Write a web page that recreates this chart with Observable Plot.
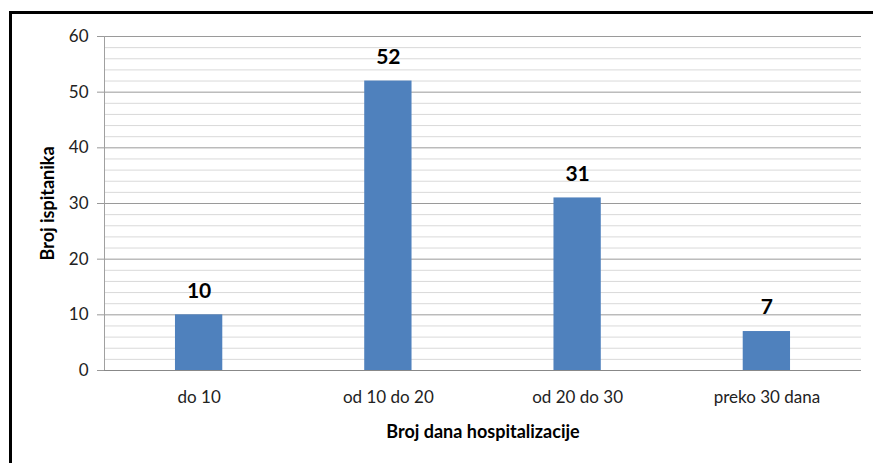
<!DOCTYPE html>
<html>
<head>
<meta charset="utf-8">
<script src="https://cdn.jsdelivr.net/npm/d3@7"></script>
<script src="https://cdn.jsdelivr.net/npm/@observablehq/plot@0.6"></script>
<style>
  html, body { margin: 0; padding: 0; background: #fff; }
  #wrap { position: relative; width: 873px; height: 463px; overflow: hidden; }
  #border { position: absolute; left: 9px; top: 11px; width: 900px; height: 500px;
            border-top: 3px solid #000; border-left: 3px solid #000; box-sizing: border-box; }
  #chart { position: absolute; left: 0; top: 0; }
</style>
</head>
<body>
<div id="wrap"><div id="border"></div><div id="chart"></div></div>
<script>
const categories = ["do 10", "od 10 do 20", "od 20 do 30", "preko 30 dana"];
const values = [10, 52, 31, 7];
const yTicks = [0, 10, 20, 30, 40, 50, 60];
const minorTicks = d3.range(0, 61, 2).filter(v => v % 10 !== 0);
const xTitle = "Broj dana hospitalizacije";
const yTitle = "Broj ispitanika";

const data = categories.map((c, i) => ({cat: c, val: values[i]}));
const font = "Lato, 'Open Sans', sans-serif";

const chart = Plot.plot({
  width: 873,
  height: 463,
  marginLeft: 104,
  marginRight: 12,
  marginTop: 36,
  marginBottom: 93,
  style: {fontFamily: font, background: "transparent", color: "#000", overflow: "visible"},
  x: {domain: categories, paddingInner: 0.75, paddingOuter: 0.375, round: false},
  y: {domain: [0, 60]},
  marks: [
    Plot.ruleY(minorTicks, {stroke: "#d9d9d9", strokeWidth: 1}),
    Plot.ruleY(yTicks.filter(v => v > 0), {stroke: "#9a9a9a", strokeWidth: 1}),
    Plot.barY(data, {x: "cat", y: "val", fill: "#4f81bd"}),
    Plot.frame({anchor: "left", stroke: "#a0a0a0"}),
    Plot.ruleY([0], {stroke: "#888888", strokeWidth: 1}),
    Plot.axisY({ticks: yTicks, tickSize: 7, tickPadding: 9, stroke: "#999", fontSize: 17, label: null, fill: "#222"}),
    Plot.axisX({tickSize: 0, tickPadding: 20, fontSize: 17, label: null, fill: "#222"}),
    Plot.text(data, {x: "cat", y: "val", text: d => String(d.val), dy: -24, fontSize: 21, fontWeight: "bold", fill: "#000"}),
    Plot.text([xTitle], {frameAnchor: "bottom", dy: 62, textAnchor: "middle", lineAnchor: "middle", fontSize: 18, fontWeight: "bold", fill: "#000"}),
    Plot.text([yTitle], {frameAnchor: "left", dx: -56, textAnchor: "middle", lineAnchor: "middle", rotate: -90, fontSize: 18, fontWeight: "bold", fill: "#000"})
  ]
});
document.getElementById("chart").appendChild(chart);
</script>
</body>
</html>
